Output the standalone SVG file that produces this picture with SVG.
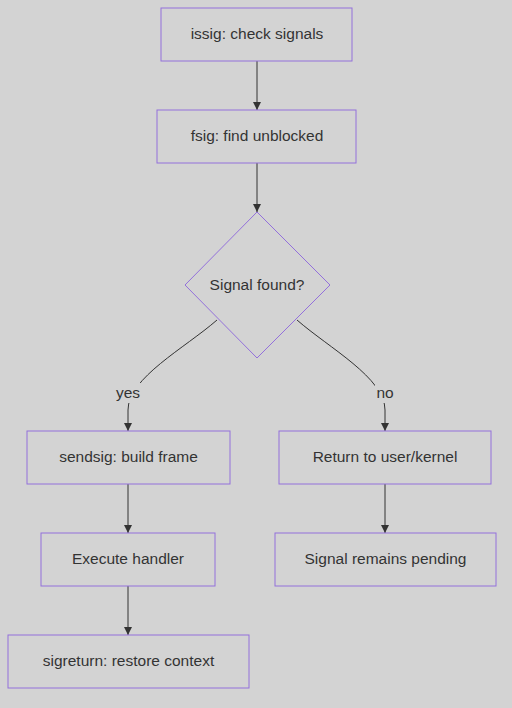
<svg xmlns="http://www.w3.org/2000/svg" width="512" height="708" viewBox="0 0 512 708">
<style>
.n{fill:#d3d3d3;stroke:#9370DB;stroke-width:1}
.t{font-family:"Liberation Sans",Arial,sans-serif;font-size:15.5px;fill:#333;text-anchor:middle;dominant-baseline:central}
.e{fill:none;stroke:#333;stroke-width:1}
</style>
<defs>
<marker id="ah" viewBox="0 0 10 10" refX="10" refY="5" markerWidth="8" markerHeight="8" markerUnits="userSpaceOnUse" orient="auto">
<path d="M0,0 L10,5 L0,10 z" fill="#333"/>
</marker>
</defs>
<rect width="512" height="708" fill="#d3d3d3"/>
<g id="edges">
<path class="e" d="M257,61 L257,110" marker-end="url(#ah)"/>
<path class="e" d="M257,163 L257,212" marker-end="url(#ah)"/>
<path class="e" d="M217,320 C185,348 128,378 128,410 L128,431" marker-end="url(#ah)"/>
<path class="e" d="M297,320 C329,348 385,378 385,410 L385,431" marker-end="url(#ah)"/>
<path class="e" d="M128,484 L128,533" marker-end="url(#ah)"/>
<path class="e" d="M385,484 L385,533" marker-end="url(#ah)"/>
<path class="e" d="M128,586 L128,635" marker-end="url(#ah)"/>
<rect x="116" y="383" width="26" height="20" fill="#d3d3d3"/>
<text class="t" x="128" y="392">yes</text>
<rect x="375" y="383" width="21" height="20" fill="#d3d3d3"/>
<text class="t" x="385" y="392">no</text>
</g>
<g id="issig"><rect class="n" x="161" y="8" width="191" height="53"/><text class="t" x="257" y="33.5">issig: check signals</text></g>
<g id="fsig"><rect class="n" x="157" y="110" width="199" height="53"/><text class="t" x="257" y="135.5">fsig: find unblocked</text></g>
<g id="found"><polygon class="n" points="257,212 330,285 257,358 185,285"/><text class="t" x="257" y="284">Signal found?</text></g>
<g id="sendsig"><rect class="n" x="27" y="431" width="203" height="53"/><text class="t" x="128.5" y="456">sendsig: build frame</text></g>
<g id="ret"><rect class="n" x="279" y="431" width="212" height="53"/><text class="t" x="385" y="456">Return to user/kernel</text></g>
<g id="exec"><rect class="n" x="41" y="533" width="174" height="53"/><text class="t" x="128" y="558">Execute handler</text></g>
<g id="pending"><rect class="n" x="275" y="533" width="221" height="53"/><text class="t" x="385.5" y="558">Signal remains pending</text></g>
<g id="sigret"><rect class="n" x="8" y="635" width="241" height="53"/><text class="t" x="128.5" y="660">sigreturn: restore context</text></g>
</svg>
